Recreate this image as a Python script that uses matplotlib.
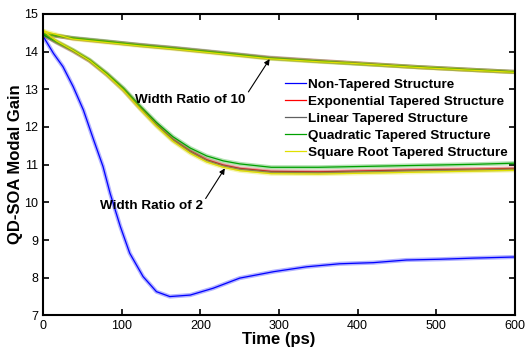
import numpy as np
import matplotlib.pyplot as plt

plt.rcParams['font.family'] = ['Liberation Sans', 'DejaVu Sans']

# Non-tapered structure (width ratio 2 is the only curve that drops this far)
t_blue = [0, 13, 25, 38, 51, 64, 76, 85, 98, 110, 127, 144, 161, 187, 216,
          250, 293, 335, 377, 420, 462, 504, 547, 600]
g_blue = [14.40, 13.95, 13.60, 13.07, 12.45, 11.66, 10.95, 10.24, 9.36, 8.65,
          8.03, 7.63, 7.50, 7.54, 7.72, 7.99, 8.16, 8.29, 8.37, 8.40, 8.47,
          8.49, 8.52, 8.55]

# Width ratio of 2
t_r2 = [0, 17, 38, 59, 81, 102, 123, 144, 165, 187, 208, 229, 250, 290, 350,
        400, 450, 500, 550, 600]
g_exp2 = [14.45, 14.25, 14.02, 13.76, 13.40, 13.00, 12.52, 12.07, 11.67, 11.36,
          11.13, 10.99, 10.90, 10.82, 10.81, 10.83, 10.85, 10.87, 10.88, 10.90]
g_lin2 = [14.45, 14.24, 14.01, 13.75, 13.38, 12.98, 12.50, 12.05, 11.65, 11.34,
          11.11, 10.97, 10.88, 10.80, 10.79, 10.81, 10.83, 10.85, 10.86, 10.88]
g_quad2 = [14.45, 14.26, 14.04, 13.78, 13.42, 13.03, 12.56, 12.12, 11.74, 11.44,
           11.23, 11.10, 11.02, 10.93, 10.93, 10.95, 10.97, 10.99, 11.01, 11.04]
g_sqrt2 = [14.55, 14.28, 14.03, 13.76, 13.38, 12.97, 12.48, 12.02, 11.62, 11.30,
           11.07, 10.93, 10.84, 10.76, 10.75, 10.77, 10.79, 10.81, 10.83, 10.85]

# Width ratio of 10
t_r10 = [0, 38, 81, 123, 165, 208, 250, 288, 350, 390, 475, 540, 600]
g_exp10 = [14.47, 14.35, 14.26, 14.17, 14.09, 14.00, 13.91, 13.83, 13.75,
           13.70, 13.59, 13.52, 13.46]
g_lin10 = [14.47, 14.35, 14.26, 14.18, 14.10, 14.01, 13.92, 13.84, 13.75,
           13.70, 13.59, 13.52, 13.46]
g_quad10 = [14.47, 14.36, 14.27, 14.17, 14.09, 14.00, 13.91, 13.82, 13.74,
            13.69, 13.59, 13.52, 13.46]
g_sqrt10 = [14.55, 14.33, 14.24, 14.15, 14.07, 13.98, 13.89, 13.81, 13.73,
            13.69, 13.58, 13.51, 13.45]

labels = ['Non-Tapered Structure', 'Exponential Tapered Structure',
          'Linear Tapered Structure', 'Quadratic Tapered Structure',
          'Square Root Tapered Structure']
colors = ['#0000ff', '#ff0000', '#606060', '#00a000', '#e0e000']

fig = plt.figure(figsize=(5.28, 3.56), dpi=100)
ax = fig.add_axes([0.082, 0.114, 0.893, 0.847])

curves = [
    [(t_blue, g_blue)],
    [(t_r2, g_exp2), (t_r10, g_exp10)],
    [(t_r2, g_lin2), (t_r10, g_lin10)],
    [(t_r2, g_quad2), (t_r10, g_quad10)],
    [(t_r2, g_sqrt2), (t_r10, g_sqrt10)],
]

for lab, c, segs in zip(labels, colors, curves):
    for k, (t, g) in enumerate(segs):
        # light halo standing in for the fast ripple of the simulated gain
        ax.plot(t, g, color=c, lw=3.0, alpha=0.3)
        ax.plot(t, g, color=c, lw=0.9, label=lab if k == 0 else None)

ax.set_xlim(0, 600)
ax.set_ylim(7, 15)
ax.set_xticks(np.arange(0, 601, 100))
ax.set_yticks(np.arange(7, 16, 1))
ax.tick_params(direction='in', top=True, right=True, length=4, width=1.2,
               labelsize=9)
for s in ax.spines.values():
    s.set_linewidth(1.5)

ax.set_xlabel('Time (ps)', fontsize=12, fontweight='bold', labelpad=0)
ax.set_ylabel('QD-SOA Modal Gain', fontsize=12, fontweight='bold', labelpad=1)

ax.annotate('Width Ratio of 10', xy=(288, 13.8), xytext=(117, 12.72),
            fontsize=9.7, fontweight='bold', va='center',
            arrowprops=dict(arrowstyle='-|>', color='black', lw=0.8,
                            shrinkA=0, shrinkB=0, mutation_scale=8,
                            relpos=(1, 0.8)))
ax.annotate('Width Ratio of 2', xy=(231, 10.9), xytext=(72, 9.89),
            fontsize=9.7, fontweight='bold', va='center',
            arrowprops=dict(arrowstyle='-|>', color='black', lw=0.8,
                            shrinkA=0, shrinkB=0, mutation_scale=8,
                            relpos=(1, 0.8)))

leg = ax.legend(loc='upper left', bbox_to_anchor=(0.512, 0.787), frameon=False,
                fontsize=9.7, handlelength=1.6, handletextpad=0.15,
                labelspacing=0.34, borderaxespad=0, borderpad=0)
for txt in leg.get_texts():
    txt.set_fontweight('bold')

fig.savefig('out.png', dpi=100)
